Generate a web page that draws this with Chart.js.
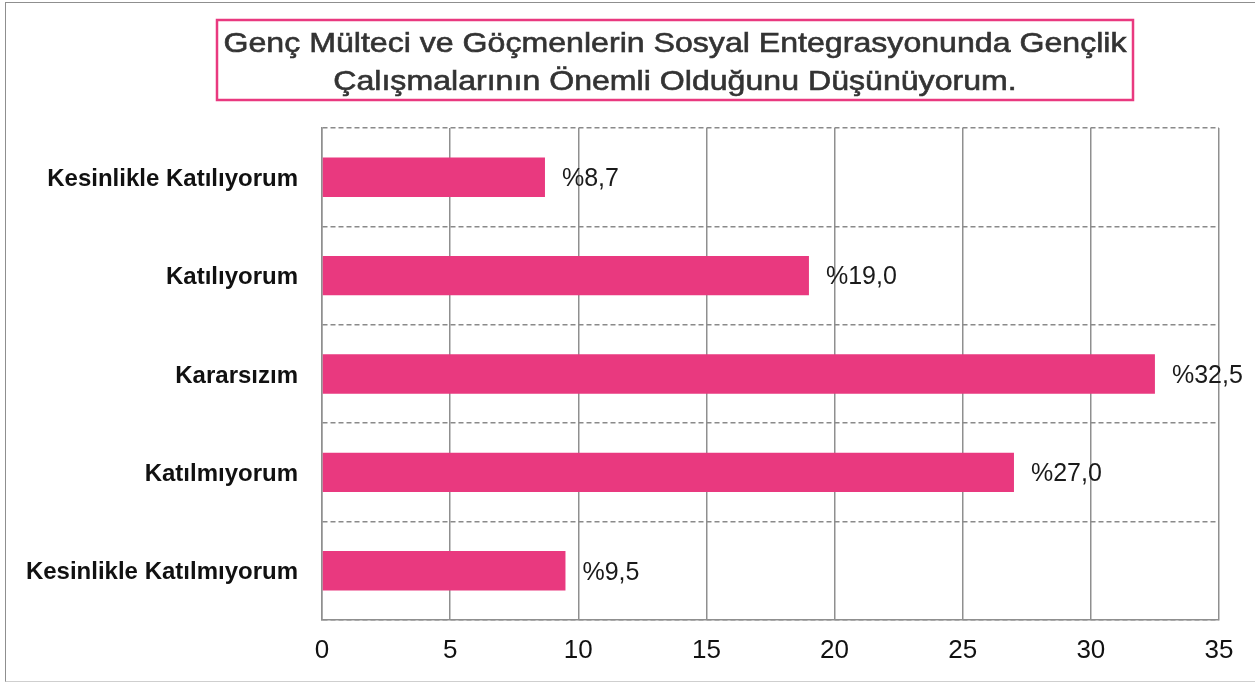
<!DOCTYPE html>
<html><head><meta charset="utf-8">
<script src="https://cdn.jsdelivr.net/npm/chart.js@4.4.0/dist/chart.umd.min.js"></script>
<style>
html,body{margin:0;padding:0;background:#fff;overflow:hidden;}
#wrap{position:relative;width:1255px;height:683px;}
#frame{position:absolute;left:5px;top:2px;width:1260px;height:678px;border-top:1.5px solid #8f8f8f;border-left:1.5px solid #8f8f8f;border-bottom:1px solid #cfcfcf;}
canvas{position:absolute;left:0;top:0;}
</style></head><body>
<div id="wrap"><div id="frame"></div><canvas id="c" width="1255" height="683"></canvas></div>
<script>
const titleLines = ['Genç Mülteci ve Göçmenlerin Sosyal Entegrasyonunda Gençlik', 'Çalışmalarının Önemli Olduğunu Düşünüyorum.'];
const categories = ['Kesinlikle Katılıyorum', 'Katılıyorum', 'Kararsızım', 'Katılmıyorum', 'Kesinlikle Katılmıyorum'];
const values = [8.7, 19.0, 32.5, 27.0, 9.5];
const valueLabels = ['%8,7', '%19,0', '%32,5', '%27,0', '%9,5'];
const xMin = 0, xMax = 35, xStep = 5;

const FONT = "'Liberation Sans', Arial, sans-serif";
const PINK = '#E9397F';

const titleBox = {
  id: 'titleBox',
  afterDraw(chart) {
    const ctx = chart.ctx;
    ctx.save();
    ctx.strokeStyle = PINK;
    ctx.lineWidth = 2.5;
    ctx.strokeRect(217, 20, 916, 80);
    ctx.fillStyle = '#333333';
    ctx.font = '28px ' + FONT;
    ctx.textAlign = 'center';
    ctx.textBaseline = 'alphabetic';
    ctx.strokeStyle = '#333333';
    ctx.lineWidth = 0.6;
    const w = ctx.measureText(titleLines[0]).width;
    const sx = 903 / w;
    const ys = [52, 90];
    titleLines.forEach((t, i) => {
      ctx.save();
      ctx.translate(675, ys[i]);
      ctx.scale(sx, 1);
      ctx.fillText(t, 0, 0);
      ctx.strokeText(t, 0, 0);
      ctx.restore();
    });
    ctx.restore();
  }
};

const valueLabelPlugin = {
  id: 'valueLabels',
  afterDatasetsDraw(chart) {
    const ctx = chart.ctx;
    const meta = chart.getDatasetMeta(0);
    ctx.save();
    ctx.font = '25px ' + FONT;
    ctx.fillStyle = '#1a1a1a';
    ctx.textAlign = 'left';
    ctx.textBaseline = 'middle';
    meta.data.forEach((bar, i) => {
      ctx.fillText(valueLabels[i], bar.x + 17, bar.y + 2);
    });
    ctx.restore();
  }
};

new Chart(document.getElementById('c'), {
  type: 'bar',
  data: {
    labels: categories,
    datasets: [{
      data: values,
      backgroundColor: PINK,
      borderWidth: 0,
      barPercentage: 0.4,
      categoryPercentage: 1.0
    }]
  },
  options: {
    indexAxis: 'y',
    responsive: false,
    animation: false,
    devicePixelRatio: 1,
    layout: { padding: { top: 128, right: 36, left: 0, bottom: 0 } },
    plugins: { legend: { display: false }, tooltip: { enabled: false }, title: { display: false } },
    scales: {
      x: {
        min: xMin, max: xMax,
        ticks: { stepSize: xStep, font: { family: FONT, size: 26 }, color: '#111111', padding: 15 },
        grid: { color: '#8f8f8f', lineWidth: 1.5, drawTicks: false },
        border: { display: true, color: '#8f8f8f', width: 1.5 },
        afterFit: s => { s.height = 63; }
      },
      y: {
        ticks: { font: { family: FONT, size: 24, weight: 'bold' }, color: '#111111', padding: 24, labelOffset: 2 },
        grid: { color: '#8a8a8a', lineWidth: 1.5, drawTicks: false },
        border: { display: true, color: '#8f8f8f', width: 1.5, dash: [5, 3] },
        afterFit: s => { s.width = 322; }
      }
    }
  },
  plugins: [titleBox, valueLabelPlugin]
});
</script>
</body></html>
